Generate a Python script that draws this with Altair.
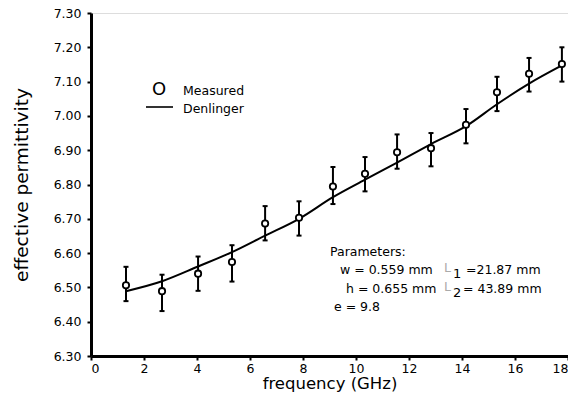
import altair as alt
import pandas as pd

# measured data
freq = [1.32, 2.68, 4.04, 5.32, 6.57, 7.85, 9.13, 10.34, 11.55, 12.83, 14.15, 15.32, 16.53, 17.77]
measured = [6.506, 6.489, 6.540, 6.574, 6.686, 6.703, 6.794, 6.831, 6.894, 6.906, 6.974, 7.069, 7.123, 7.151]
err_hi = [6.560, 6.537, 6.590, 6.623, 6.737, 6.751, 6.851, 6.880, 6.946, 6.950, 7.020, 7.114, 7.169, 7.200]
err_lo = [6.460, 6.431, 6.490, 6.517, 6.637, 6.651, 6.743, 6.780, 6.846, 6.853, 6.920, 7.014, 7.071, 7.100]
# Denlinger model curve
model = [6.489, 6.518, 6.561, 6.603, 6.651, 6.700, 6.763, 6.814, 6.864, 6.918, 6.970, 7.034, 7.094, 7.147]

x_major = [0, 2, 4, 6, 8, 10, 12, 14, 16, 18]
y_major = [6.30, 6.40, 6.50, 6.60, 6.70, 6.80, 6.90, 7.00, 7.10, 7.20, 7.30]

FONT = "DejaVu Sans"
W, H = 477, 343

df = pd.DataFrame({"f": freq, "m": measured, "hi": err_hi, "lo": err_lo, "model": model})

xs = alt.Scale(domain=[0, 18], nice=False, zero=False)
ys = alt.Scale(domain=[6.30, 7.30], nice=False, zero=False)

ax_x = alt.Axis(
    values=x_major, format="d", title="frequency (GHz)",
    ticks=True, tickSize=4, tickWidth=2, tickColor="black",
    labelFont=FONT, labelFontSize=12.5, labelColor="black", labelPadding=2,
    labelOverlap=False, labelFlush=True,
    titleFont=FONT, titleFontSize=16.5, titleFontWeight="normal", titleColor="black",
    titlePadding=1, domainColor="black", domainWidth=3, grid=False)
ax_y = alt.Axis(
    values=y_major, format=".2f", title="effective permittivity",
    ticks=True, tickSize=4, tickWidth=2, tickColor="black",
    labelFont=FONT, labelFontSize=12.5, labelColor="black", labelPadding=6,
    labelOverlap=False, labelFlush=False,
    titleFont=FONT, titleFontSize=18.5, titleFontWeight="normal", titleColor="black",
    titlePadding=22, domainColor="black", domainWidth=3, grid=False)

X = lambda f: alt.X(f, scale=xs, axis=ax_x)
Y = lambda f: alt.Y(f, scale=ys, axis=ax_y)

base = alt.Chart(df)

line = base.mark_line(color="black", strokeWidth=2, interpolate="monotone").encode(
    x=X("f:Q"), y=Y("model:Q"))
bars = base.mark_rule(color="black", strokeWidth=2).encode(
    x=X("f:Q"), y=Y("lo:Q"), y2="hi:Q")
cap_hi = base.mark_tick(color="black", orient="horizontal", size=5, thickness=2, opacity=1).encode(
    x=X("f:Q"), y=Y("hi:Q"))
cap_lo = base.mark_tick(color="black", orient="horizontal", size=5, thickness=2, opacity=1).encode(
    x=X("f:Q"), y=Y("lo:Q"))
pts = base.mark_point(shape="circle", filled=True, fill="white", stroke="black",
                      strokeWidth=1.8, size=40, opacity=1).encode(
    x=X("f:Q"), y=Y("m:Q"))

def label(txt, x, y, size=12.5, align="left", color="black"):
    return alt.Chart(pd.DataFrame({"t": [txt]})).mark_text(
        font=FONT, fontSize=size, align=align, baseline="middle", color=color).encode(
        text="t:N", x=alt.value(x), y=alt.value(y))

leg_line = alt.Chart(pd.DataFrame({"t": [0]})).mark_rule(color="black", strokeWidth=1.6).encode(
    x=alt.value(55), x2=alt.value(82), y=alt.value(94))

texts = [
    label("O", 68, 77, size=18, align="center"),
    label("Measured", 92, 78),
    label("Denlinger", 92, 96),
    label("Parameters:", 239, 239),
    label("w = 0.559 mm", 249, 257),
    label("h = 0.655 mm", 255, 276),
    label("e = 9.8", 243, 294),
    label("L", 353, 255, color="#aaaaaa"),
    label("1", 362, 261, size=13),
    label("=21.87 mm", 375, 257),
    label("L", 353, 274, color="#aaaaaa"),
    label("2", 362, 280, size=13),
    label("= 43.89 mm", 372, 276),
]

chart = alt.layer(
    line, bars, cap_hi, cap_lo, pts, leg_line, *texts
).properties(
    width=W, height=H,
    autosize=alt.AutoSizeParams(type="none"),
    padding={"left": 83, "top": 5, "right": 0, "bottom": 38},
).configure_view(stroke=None).configure(background="white")

chart.save("out.html", embed_options={"renderer": "svg", "actions": False})
